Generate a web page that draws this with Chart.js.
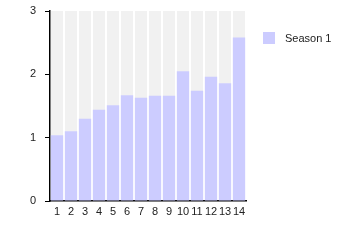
<!DOCTYPE html>
<html>
<head>
<meta charset="utf-8">
<script src="https://cdn.jsdelivr.net/npm/chart.js@4/dist/chart.umd.min.js"></script>
<style>
    html, body { margin: 0; padding: 0; background: #fff; }
    #wrap { position: relative; width: 345px; height: 250px; }
    #legend { position: absolute; left: 263px; top: 32px; font: 11px "Liberation Sans", Arial, sans-serif; color: #222; }
    #legend .box { position: absolute; left: 0; top: 0; width: 12px; height: 12px; background: #ccccff; }
    #legend .txt { position: absolute; left: 22px; top: 0; line-height: 13px; white-space: nowrap; }
</style>
</head>
<body>
<div id="wrap">
    <canvas id="seasonChart" width="345" height="250"></canvas>
    <div id="legend"><span class="box"></span><span class="txt">Season 1</span></div>
</div>
<script>
const categories = ['1', '2', '3', '4', '5', '6', '7', '8', '9', '10', '11', '12', '13', '14']
const season1 = [1.04, 1.10, 1.30, 1.44, 1.51, 1.67, 1.63, 1.66, 1.66, 2.05, 1.74, 1.96, 1.86, 2.58]
const yMin = 0
const yMax = 3

// grey plot background behind the bars
const plotBackground = {
    id: 'plotBackground',
    beforeDraw (chart) {
        const a = chart.chartArea
        const ctx = chart.ctx
        ctx.save()
        ctx.fillStyle = '#f1f1f1'
        ctx.fillRect(a.left, a.top, a.right - a.left, a.bottom - a.top)
        ctx.restore()
    },
}

const font = { family: '"Liberation Sans", Arial, sans-serif', size: 11 }

new Chart(document.getElementById('seasonChart'), {
    type: 'bar',
    data: {
        labels: categories,
        datasets: [{
            label: 'Season 1',
            data: season1,
            backgroundColor: '#ccccff',
            borderWidth: 0,
            barPercentage: 1,
            categoryPercentage: 0.88,
        }],
    },
    options: {
        responsive: false,
        animation: false,
        layout: {
            padding: { left: 0, right: 99, top: 11, bottom: 0 },
        },
        plugins: {
            legend: { display: false },
            tooltip: { enabled: false },
        },
        scales: {
            x: {
                grid: {
                    offset: true,
                    color: '#ffffff',
                    lineWidth: 2,
                    drawTicks: false,
                },
                border: { display: true, color: '#000', width: 1.5 },
                ticks: { color: '#222', font: font, padding: 4, maxRotation: 0, autoSkip: false },
                afterFit (scale) { scale.height = 49 },
            },
            y: {
                min: yMin,
                max: yMax,
                grid: {
                    drawOnChartArea: false,
                    drawTicks: true,
                    tickLength: 5,
                    tickColor: '#000',
                },
                border: { display: true, color: '#000', width: 1.5 },
                ticks: { stepSize: 1, color: '#222', font: font, padding: 9 },
                afterFit (scale) {
                    scale.width = 50
                    scale.paddingTop = 0
                    scale.paddingBottom = 0
                },
            },
        },
    },
    plugins: [plotBackground],
})
</script>
</body>
</html>
